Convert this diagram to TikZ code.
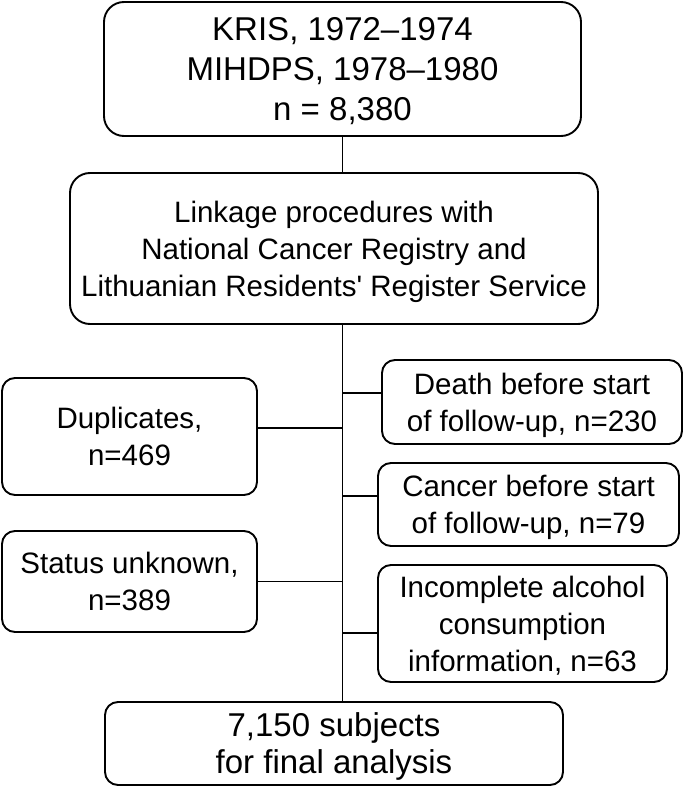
\documentclass[tikz,border=0pt]{standalone}
\usepackage{fontspec}
\setmainfont{Liberation Sans}
\usetikzlibrary{positioning, calc}

\tikzset{
	box/.style={draw, line width=1.9pt, rounded corners=13pt, align=center, inner sep=0pt,
	text depth=-3pt, font=\fontsize{29.5}{37}\selectfont},
	link/.style={line width=1.5pt}
}

\begin{document}
\begin{tikzpicture}[x=1pt,y=-1pt]
		
		\useasboundingbox (0,0) rectangle (685,787);
		
		%Cohorts
		\node (kris) at(342.5,69) [box, rounded corners=20pt, minimum width=477pt, minimum 
		height=134pt, font=\fontsize{33}{40}\selectfont]{KRIS, 1972--1974\\MIHDPS, 1978--1980\\n = 8,380};
		
		%Linkage
		\node (linkage) at(334,248.5) [box, rounded corners=20pt, minimum width=528pt, minimum 
		height=151pt]{Linkage procedures with\\National Cancer Registry and\\Lithuanian 
		Residents\textquotesingle\ Register Service};
		
		%Excluded, left
		\node (dupl) at(129.5,436.5) [box, minimum width=255pt, minimum height=117pt]{Duplicates,\\n=469};
		\node (status) at(129.5,581.5) [box, minimum width=255pt, minimum height=101pt]{Status unknown,\\n=389};
		
		%Excluded, right
		\node (death) at(532,402) [box, minimum width=300pt, minimum height=84pt]{Death before start\\of 
		follow-up, n=230};
		\node (cancer) at(528.5,504.5) [box, minimum width=301pt, minimum height=83pt]{Cancer before start\\of 
		follow-up, n=79};
		\node (incompl) at(522.5,623.5) [box, minimum width=289pt, minimum height=117pt]{Incomplete alcohol\\consumption\\information, n=63};
		
		%Final sample
		\node (final) at(334,743.5) [box, minimum width=458pt, minimum height=83pt, 
		font=\fontsize{33}{37}\selectfont]{7,150 subjects\\for final analysis};
		
		%Trunk
		\coordinate (top) at (kris.south);
		\draw[link] (top) -- (linkage.north -| top);
		\draw[link] (linkage.south -| top) -- (final.north -| top) coordinate (bottom);
		
		%Links
		\draw[link] ([yshift=8.5pt]dupl.east) -- ([yshift=8.5pt]dupl.east -| top);
		\draw[link] (status.east) -- (status.east -| top);
		\draw[link] ([yshift=9pt]death.west -| top) -- ([yshift=9pt]death.west);
		\draw[link] ([yshift=8.5pt]cancer.west -| top) -- ([yshift=8.5pt]cancer.west);
		\draw[link] ([yshift=-9.5pt]incompl.west -| top) -- ([yshift=-9.5pt]incompl.west);
		
\end{tikzpicture}
\end{document}
